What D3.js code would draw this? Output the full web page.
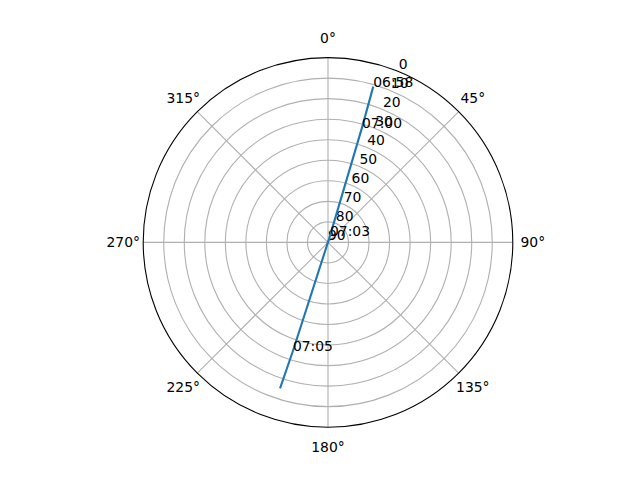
<!DOCTYPE html>
<html>
<head>
<meta charset="utf-8">
<script src="https://cdn.jsdelivr.net/npm/d3@7"></script>
<style>
  body { margin: 0; background: #fff; }
  text { font-family: "DejaVu Sans", sans-serif; font-size: 13.9px; fill: #000; }
</style>
</head>
<body>
<div id="chart"></div>
<script>
// Pass data: time, azimuth (deg, clockwise from north), elevation (deg)
var times = ["06:58", "07:00", "07:03", "07:05", "07:06"];
var azimuth = [16.2, 16.5, 17, 197.9, 198.2];
var elevation = [11.0, 31.7, 86.7, 34.4, 15.2];
// only these times got a text label
var labelled = ["06:58", "07:00", "07:03", "07:05"];

var thetaTicks = [0, 45, 90, 135, 180, 225, 270, 315];

var width = 640, height = 480;
var cx = 328, cy = 242.4, R = 184.8;

var svg = d3.select("#chart").append("svg")
    .attr("width", width)
    .attr("height", height);

var g = svg.append("g").attr("transform", "translate(" + cx + "," + cy + ")");

// elevation 90 at the centre, 0 on the rim
var r = d3.scaleLinear().domain([90, 0]).range([0, R]);
var rad = function(deg){ return deg * Math.PI / 180; };

var pass = times.map(function(t, i){
    return {time: t, az: azimuth[i], el: elevation[i]};
});

// circle grid
g.selectAll("circle.grid")
    .data(r.ticks(10).filter(function(v){ return v > 0 && v < 90; }))
  .enter().append("circle")
    .attr("class", "grid")
    .attr("r", function(d){ return r(d); })
    .attr("fill", "none")
    .attr("stroke", "#b0b0b0")
    .attr("stroke-width", 1.1);

// spokes
g.selectAll("line.spoke")
    .data(thetaTicks)
  .enter().append("line")
    .attr("x1", 0).attr("y1", 0)
    .attr("x2", function(d){ return R * Math.sin(rad(d)); })
    .attr("y2", function(d){ return -R * Math.cos(rad(d)); })
    .attr("stroke", "#b0b0b0")
    .attr("stroke-width", 1.1);

// radial tick labels along 22.5 deg
var a = rad(22.5);
g.selectAll("text.rtick")
    .data(r.ticks(10))
  .enter().append("text")
    .attr("x", function(d){ return r(d) * Math.sin(a); })
    .attr("y", function(d){ return -r(d) * Math.cos(a) - 2.5; })
    .text(function(d){ return d; });

// the pass track
var line = d3.lineRadial()
    .angle(function(d){ return rad(d.az); })
    .radius(function(d){ return r(d.el); });

g.append("path")
    .datum(pass)
    .attr("d", line)
    .attr("fill", "none")
    .attr("stroke", "#1f77b4")
    .attr("stroke-width", 2.1);

// outer spine
g.append("circle")
    .attr("r", R)
    .attr("fill", "none")
    .attr("stroke", "#000")
    .attr("stroke-width", 1.1);

// theta labels
g.selectAll("text.theta")
    .data(thetaTicks)
  .enter().append("text")
    .attr("x", function(d){ return (R + 20) * Math.sin(rad(d)); })
    .attr("y", function(d){ return -(R + 20) * Math.cos(rad(d)); })
    .attr("text-anchor", "middle")
    .attr("dominant-baseline", "central")
    .text(function(d){ return d + "\u00b0"; });

// time labels
g.selectAll("text.time")
    .data(pass.filter(function(d){ return labelled.indexOf(d.time) >= 0; }))
  .enter().append("text")
    .attr("x", function(d){ return r(d.el) * Math.sin(rad(d.az)); })
    .attr("y", function(d){ return -r(d.el) * Math.cos(rad(d.az)); })
    .text(function(d){ return d.time; });
</script>
</body>
</html>
